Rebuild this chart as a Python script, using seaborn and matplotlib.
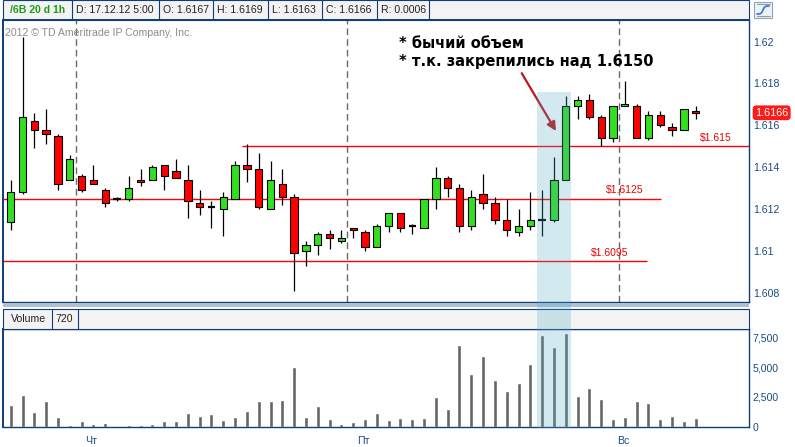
import matplotlib
matplotlib.use("Agg")
import matplotlib.pyplot as plt
from matplotlib.patches import Rectangle
from matplotlib.lines import Line2D
import seaborn as sns
import numpy as np
import pandas as pd

# ---------------- data ----------------
opens = [1.6114, 1.6128, 1.6162, 1.6158, 1.6155, 1.6134, 1.6136, 1.6134, 1.6129, 1.6125,
         1.6125, 1.6134, 1.6134, 1.6141, 1.6138, 1.6134, 1.6123, 1.6121, 1.6120, 1.6125,
         1.6141, 1.6139, 1.6120, 1.6132, 1.6126, 1.6100, 1.6103, 1.6108, 1.6105, 1.6111,
         1.6109, 1.6102, 1.6112, 1.6118, 1.6112, 1.6111, 1.6125, 1.6135, 1.6130, 1.6112,
         1.6127, 1.6123, 1.6115, 1.6109, 1.6112, 1.6115, 1.6115, 1.6134, 1.6169, 1.6172,
         1.6164, 1.6154, 1.6169, 1.6169, 1.6154, 1.6165, 1.6159, 1.6158, 1.6167]
highs = [1.6134, 1.6202, 1.6166, 1.6168, 1.6156, 1.6146, 1.6137, 1.6141, 1.6130, 1.6126,
         1.6136, 1.6139, 1.6141, 1.6141, 1.6144, 1.6141, 1.6129, 1.6124, 1.6128, 1.6143,
         1.6151, 1.6147, 1.6143, 1.6139, 1.6127, 1.6105, 1.6109, 1.6110, 1.6110, 1.6111,
         1.6110, 1.6113, 1.6118, 1.6118, 1.6113, 1.6125, 1.6140, 1.6136, 1.6132, 1.6129,
         1.6137, 1.6126, 1.6125, 1.6120, 1.6128, 1.6129, 1.6145, 1.6174, 1.6174, 1.6175,
         1.6165, 1.6169, 1.6181, 1.6170, 1.6167, 1.6167, 1.6161, 1.6168, 1.6169]
lows = [1.6110, 1.6127, 1.6149, 1.6151, 1.6129, 1.6134, 1.6128, 1.6132, 1.6121, 1.6124,
        1.6124, 1.6131, 1.6134, 1.6129, 1.6135, 1.6116, 1.6117, 1.6111, 1.6107, 1.6125,
        1.6133, 1.6120, 1.6120, 1.6122, 1.6081, 1.6093, 1.6098, 1.6101, 1.6104, 1.6106,
        1.6100, 1.6102, 1.6109, 1.6109, 1.6108, 1.6111, 1.6120, 1.6126, 1.6109, 1.6110,
        1.6120, 1.6113, 1.6107, 1.6107, 1.6110, 1.6107, 1.6114, 1.6134, 1.6163, 1.6163,
        1.6150, 1.6152, 1.6169, 1.6154, 1.6153, 1.6159, 1.6155, 1.6158, 1.6163]
closes = [1.6128, 1.6164, 1.6158, 1.6156, 1.6132, 1.6144, 1.6129, 1.6132, 1.6123, 1.6125,
          1.6130, 1.6133, 1.6140, 1.6136, 1.6135, 1.6124, 1.6121, 1.6121, 1.6126, 1.6141,
          1.6139, 1.6121, 1.6134, 1.6126, 1.6099, 1.6103, 1.6108, 1.6106, 1.6106, 1.6110,
          1.6102, 1.6112, 1.6118, 1.6111, 1.6112, 1.6125, 1.6135, 1.6130, 1.6112, 1.6126,
          1.6123, 1.6115, 1.6110, 1.6112, 1.6115, 1.6115, 1.6134, 1.6169, 1.6172, 1.6164,
          1.6154, 1.6169, 1.6170, 1.6154, 1.6165, 1.6160, 1.6158, 1.6168, 1.6166]
volumes = [1820, 2660, 1230, 2160, 810, 140, 480, 230, 310, 30,
           140, 140, 230, 480, 480, 1150, 900, 1070, 560, 810,
           1320, 2160, 2160, 2240, 5010, 810, 1740, 650, 230, 390,
           650, 1150, 560, 730, 650, 730, 2490, 1490, 6860, 4420,
           5930, 3920, 3000, 3670, 5260, 7690, 6690, 7860, 2580, 3250,
           2320, 650, 810, 2160, 1990, 650, 900, 480, 720]

levels = [1.6095, 1.6125, 1.615]
level_labels = ["$1.6095", "$1.6125", "$1.615"]
day_labels = ["Чт", "Пт", "Вс"]
price_ticks = [1.608, 1.61, 1.612, 1.614, 1.616, 1.618, 1.62]
price_tick_labels = ["1.608", "1.61", "1.612", "1.614", "1.616", "1.618", "1.62"]
vol_ticks = [0, 2500, 5000, 7500]
vol_tick_labels = ["0", "2,500", "5,000", "7,500"]
symbol = "/6B 20 d 1h"
bar_date = "17.12.12 5:00"
note_lines = ["* бычий объем", "* т.к. закрепились над 1.6150"]
copyright_txt = "2012 \u00a9 TD Ameritrade IP Company, Inc."

# ---------------- layout / style ----------------
W, H = 795, 447
GREEN = "#33e01f"
RED = "#ff0000"
BORDER = "#0e3d78"
TXTBLUE = "#1b4b86"
HDR_BG = "#f3f3f3"

day_sep_pos = [5.5, 28.5, 51.5]
day_label_pos = [6.8, 29.9, 51.9]
level_x = [(None, 53.9), (None, 55.1), (19.6, None)]
level_label_x = [50.75, 52.0, 59.7]
XLIM = (-0.652, 62.54)
YLIM = (1.60758, 1.62103)
VLIM = (0, 8200)

sns.set_style("white")
plt.rcParams['font.family'] = ['Liberation Sans', 'DejaVu Sans']
plt.rcParams['lines.scale_dashes'] = False

fig = plt.figure(figsize=(W / 100, H / 100), dpi=100)
fig.patch.set_facecolor("white")


def fx(x):
    return x / W


def fy(y):
    return 1 - y / H


def px_rect(x0, y0, x1, y1, **kw):
    r = Rectangle((fx(x0), fy(y1)), (x1 - x0) / W, (y1 - y0) / H,
                  transform=fig.transFigure, **kw)
    fig.add_artist(r)
    return r


def px_line(xs, ys, **kw):
    l = Line2D([fx(x) for x in xs], [fy(y) for y in ys], transform=fig.transFigure, **kw)
    fig.add_artist(l)
    return l


ax = fig.add_axes([fx(3), fy(301.7), (749.3 - 3) / W, (301.7 - 20) / H])
axv = fig.add_axes([fx(3), fy(426.7), (749.3 - 3) / W, (426.7 - 329) / H])

df = pd.DataFrame(dict(i=np.arange(len(opens)), o=opens, h=highs, l=lows, c=closes, v=volumes))

# ---------------- candles ----------------
ax.vlines(df.i, df.l, df.h, color="black", lw=0.9, zorder=2)
up = df[df.c > df.o]
dn = df[df.c < df.o]
fl = df[df.c == df.o]
ax.bar(up.i, up.c - up.o, bottom=up.o, width=0.62, color=GREEN, edgecolor="black", lw=0.8, zorder=3)
ax.bar(dn.i, dn.o - dn.c, bottom=dn.c, width=0.62, color=RED, edgecolor="black", lw=0.8, zorder=3)
ax.hlines(fl.c, fl.i - 0.31, fl.i + 0.31, color="black", lw=1.6, zorder=3)

ax.set_xlim(*XLIM)
ax.set_ylim(*YLIM)

# day separators
ax.vlines(day_sep_pos, YLIM[0], YLIM[1], colors="#6a6a6a", lw=1.0,
          linestyles=[(0, (4.8, 2.9))], zorder=1)

# support / resistance lines
for lv, lab, (xs, xe), lx in zip(levels, level_labels, level_x, level_label_x):
    xs = XLIM[0] if xs is None else xs
    xe = XLIM[1] if xe is None else xe
    ax.hlines(lv, xs, xe, color=RED, lw=1.0, zorder=1.5)
    ax.annotate(lab, xy=(lx, lv), xytext=(0, 6), textcoords="offset points",
                ha="center", va="center", color="#ee0000", fontsize=7.5)

# arrow
ax.annotate("", xy=(46.17, 1.61573), xytext=(43.27, 1.61849),
            arrowprops=dict(arrowstyle="-|>", color="#c0141c", lw=1.6,
                            mutation_scale=13, shrinkA=0, shrinkB=0), zorder=6)

# axes styling (price)
ax.spines["top"].set_visible(False)
for s in ["left", "right", "bottom"]:
    ax.spines[s].set_color(BORDER)
    ax.spines[s].set_linewidth(1.0)
ax.spines["left"].set_linewidth(1.4)
ax.set_xticks([])
ax.yaxis.tick_right()
ax.set_yticks(price_ticks)
ax.set_yticklabels(price_tick_labels)
ax.tick_params(axis="y", length=0, pad=2.5, labelsize=7.6, labelcolor=TXTBLUE)

# last price box
ax.annotate(f"{closes[-1]:.4f}", xy=(1, closes[-1]), xycoords=("axes fraction", "data"),
            xytext=(16.1, 0), textcoords="offset points", ha="center", va="center",
            color="white", fontsize=7.8,
            bbox=dict(boxstyle="round,pad=0.22,rounding_size=0.35", fc="#ff1a1a", ec="none"),
            annotation_clip=False)

# ---------------- volume ----------------
sns.barplot(data=df, x="i", y="v", color="#666666", saturation=1, width=0.34,
            errorbar=None, ax=axv)
axv.set_xlim(*XLIM)
axv.set_ylim(*VLIM)
axv.set_xlabel("")
axv.set_ylabel("")
for s in ["left", "right", "bottom", "top"]:
    axv.spines[s].set_color(BORDER)
    axv.spines[s].set_linewidth(1.0)
axv.spines["left"].set_linewidth(1.4)
axv.yaxis.tick_right()
axv.set_yticks(vol_ticks)
axv.set_yticklabels(vol_tick_labels)
axv.tick_params(axis="y", length=0, pad=2.5, labelsize=7.6, labelcolor=TXTBLUE)
axv.set_xticks(day_label_pos)
axv.set_xticklabels(day_labels)
axv.tick_params(axis="x", length=0, pad=7, labelsize=7.6, labelcolor=TXTBLUE)

# ---------------- chrome: headers ----------------
px_rect(3, 0, 749.3, 20, fc=HDR_BG, ec=BORDER, lw=0.8, zorder=2)
px_line([3, 749.3], [20, 20], color=BORDER, lw=1.4, zorder=3)
hdr_div = [71.7, 159, 213.3, 268.3, 321.7, 376.7, 429.3]
for xd in hdr_div:
    px_line([xd, xd], [0, 20], color=BORDER, lw=0.8, zorder=3)
o_l, h_l, l_l, c_l = opens[-1], highs[-1], lows[-1], closes[-1]
hdr_txt = [f"D: {bar_date}", f"O: {o_l:.4f}", f"H: {h_l:.4f}", f"L: {l_l:.4f}",
           f"C: {c_l:.4f}", f"R: {h_l - l_l:.4f}"]
fig.text(fx(10), fy(10), symbol, color="#1a9e1a", fontsize=7.6, fontweight="bold",
         va="center", ha="left", zorder=4)
for xd, t in zip(hdr_div[:-1], hdr_txt):
    fig.text(fx(xd + 4), fy(10), t, color="#222222", fontsize=7.6, va="center",
             ha="left", zorder=4)

# icon
px_rect(754, 1.7, 771.7, 18.3, fc="#eef2f6", ec="#8ea4bc", lw=0.8, zorder=2)
px_line([756.5, 769.5], [4.2, 4.2], color="#9a9a9a", lw=0.8, zorder=3)
px_line([756.5, 769.5], [15.8, 15.8], color="#9a9a9a", lw=0.8, zorder=3)
icx = np.linspace(757, 769, 25)
icy = 10 - 4 * np.tanh((icx - 763) / 1.8)
px_line(icx, icy, color="#3a7fd0", lw=1.3, zorder=3)

# separator between panels
px_rect(3, 303.3, 749.3, 306.7, fc="#aebfd4", ec="none", zorder=2)

# volume header
px_rect(3, 309, 749.3, 329, fc=HDR_BG, ec=BORDER, lw=0.8, zorder=2)
for xd in [51.7, 77.7]:
    px_line([xd, xd], [309, 329], color=BORDER, lw=0.8, zorder=3)
fig.text(fx(11), fy(319), "Volume", color="#222222", fontsize=7.6, va="center", zorder=4)
fig.text(fx(55), fy(319), f"{volumes[-1]}", color="#222222", fontsize=7.6, va="center", zorder=4)

# copyright
fig.text(fx(5), fy(33), copyright_txt, color="#8c8c8c", fontsize=7.6, va="center", zorder=4)

# annotation text
for k, t in enumerate(note_lines):
    fig.text(fx(399), fy(44 + 17.7 * k), t, color="black", fontsize=10.5,
             fontweight="bold", family=["DejaVu Sans"], va="center", ha="left", zorder=6)

# highlight across both panels
hl_lo, hl_hi = 44.6, 47.42
hl_top = 1.61759
inv = fig.transFigure.inverted()
p_top_l = ax.transData.transform((hl_lo, hl_top))
p_top_r = ax.transData.transform((hl_hi, hl_top))
p_bot = axv.transData.transform((hl_lo, -110))
a = inv.transform((p_top_l[0], p_bot[1]))
b = inv.transform((p_top_r[0], p_top_l[1]))
fig.add_artist(Rectangle(a, b[0] - a[0], b[1] - a[1], transform=fig.transFigure,
                         fc="#56aac5", alpha=0.26, ec="none", zorder=5))

fig.savefig("out.png", dpi=100)
